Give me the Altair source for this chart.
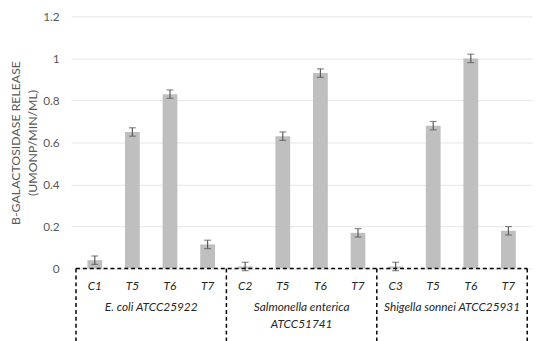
import altair as alt
import pandas as pd

# ---- data ----
labels = ["C1", "T5", "T6", "T7", "C2", "T5", "T6", "T7", "C3", "T5", "T6", "T7"]
groups = ["E. coli ATCC25922"] * 4 + ["Salmonella enterica ATCC51741"] * 4 + ["Shigella sonnei ATCC25931"] * 4
values = [0.04, 0.65, 0.83, 0.115, 0.01, 0.63, 0.93, 0.17, 0.01, 0.68, 1.0, 0.18]
errors = [0.02, 0.02, 0.02, 0.02, 0.02, 0.02, 0.02, 0.02, 0.02, 0.02, 0.02, 0.02]
group_names = ["E. coli ATCC25922", "Salmonella enterica\nATCC51741", "Shigella sonnei ATCC25931"]
group_sizes = [4, 4, 4]
y_ticks = [0, 0.2, 0.4, 0.6, 0.8, 1.0, 1.2]

n = len(labels)
df = pd.DataFrame({
    "pos": [i + 0.5 for i in range(n)],
    "label": labels,
    "value": values,
    "lo": [v - e for v, e in zip(values, errors)],
    "hi": [v + e for v, e in zip(values, errors)],
})

bounds = [0]
for s in group_sizes:
    bounds.append(bounds[-1] + s)
gdf = pd.DataFrame({
    "mid": [(bounds[i] + bounds[i + 1]) / 2 for i in range(len(group_names))],
    "name": group_names,
})
sep = pd.DataFrame({"x": bounds})
base_line = pd.DataFrame({"x": [bounds[0]], "x2": [bounds[-1]], "y": [0]})

FONT = "Lato"
GRAY = "#595959"

xs = alt.Scale(domain=[0, n], nice=False, zero=False)
ys = alt.Scale(domain=[0, 1.2], nice=False)

bars = alt.Chart(df).mark_bar(size=15, color="#BFBFBF").encode(
    x=alt.X("pos:Q", scale=xs, axis=None),
    y=alt.Y("value:Q", scale=ys, axis=alt.Axis(
        values=y_ticks, format="~g", grid=True, gridColor="#E6E6E6", domain=False, ticks=False,
        labelColor=GRAY, labelFontSize=12, labelFont=FONT, labelPadding=12,
        title=["B-GALACTOSIDASE RELEASE", "(UMONP/MIN/ML)"], titleColor=GRAY, titleFont=FONT,
        titleFontSize=12.5, titleFontWeight="normal", titlePadding=3, titleLineHeight=18,
    )),
)

err = alt.Chart(df).mark_rule(color=GRAY, strokeWidth=1.2).encode(
    x=alt.X("pos:Q", scale=xs), y=alt.Y("lo:Q", scale=ys), y2="hi:Q"
)
cap_lo = alt.Chart(df).mark_tick(color=GRAY, size=7, thickness=1.2, orient="horizontal").encode(
    x=alt.X("pos:Q", scale=xs), y=alt.Y("lo:Q", scale=ys)
)
cap_hi = alt.Chart(df).mark_tick(color=GRAY, size=7, thickness=1.2, orient="horizontal").encode(
    x=alt.X("pos:Q", scale=xs), y=alt.Y("hi:Q", scale=ys)
)

hline = alt.Chart(base_line).mark_rule(color="black", strokeWidth=1.5, strokeDash=[4, 3]).encode(
    x=alt.X("x:Q", scale=xs), x2="x2:Q", y=alt.Y("y:Q", scale=ys)
)
vlines = alt.Chart(sep).mark_rule(color="black", strokeWidth=1.5, strokeDash=[4, 3]).encode(
    x=alt.X("x:Q", scale=xs), y=alt.value(256), y2=alt.value(335)
)

cat_text = alt.Chart(df).mark_text(font=FONT, fontSize=12, fontStyle="italic", color="#262626",
                                   baseline="middle").encode(
    x=alt.X("pos:Q", scale=xs), y=alt.value(274), text="label:N"
)
grp_text = alt.Chart(gdf).mark_text(font=FONT, fontSize=12, fontStyle="italic", color="#262626",
                                    baseline="top", lineBreak="\n", lineHeight=17).encode(
    x=alt.X("mid:Q", scale=xs), y=alt.value(290), text="name:N"
)

chart = alt.layer(bars, err, cap_lo, cap_hi, hline, vlines, cat_text, grp_text).properties(
    width=468, height=256,
    autosize=alt.AutoSizeParams(type="none"),
    padding={"left": 64, "top": 6, "right": 10, "bottom": 71},
).configure_view(stroke=None)

chart.save("out.html", embed_options={"renderer": "svg", "actions": False})
